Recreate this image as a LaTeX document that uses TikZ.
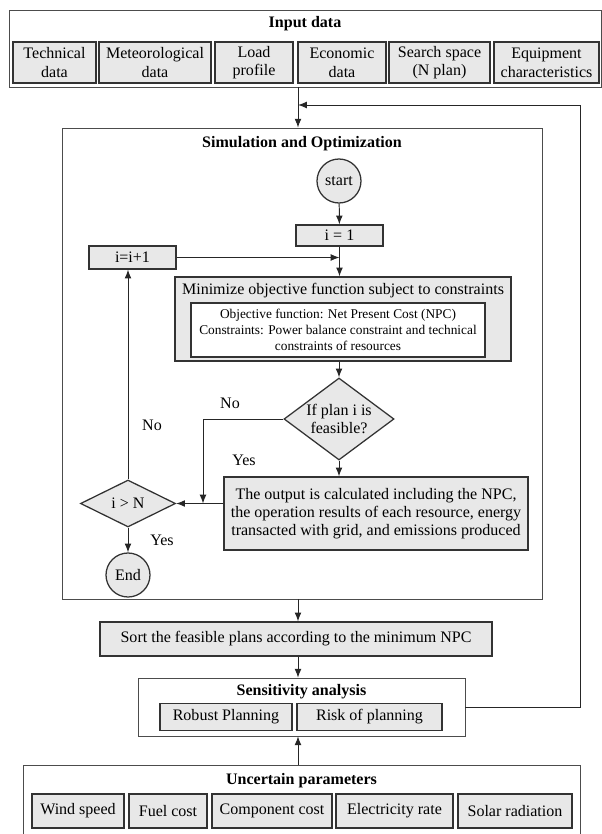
\documentclass[tikz,border=0pt]{standalone}
\usepackage{fontspec}
\setmainfont{Liberation Serif}
\usepackage{tikz}
\usetikzlibrary{shapes.geometric, arrows.meta, positioning, calc}

\begin{document}
\begin{tikzpicture}[
        x=0.025cm, y=-0.025cm,
        font=\fontsize{11.4}{13.2}\selectfont,
        group/.style={rectangle, draw=black!70, fill=white, inner sep=0pt},
        item/.style={rectangle, draw=black!80, line width=0.9pt, fill=gray!18, align=center, inner sep=1pt},
        proc/.style={rectangle, draw=black!80, line width=0.9pt, fill=gray!18, align=center, inner sep=1pt},
        term/.style={circle, draw=black!80, line width=0.9pt, fill=gray!18, minimum size=1.1cm, inner sep=0pt},
        decide/.style={diamond, draw=black!80, line width=0.9pt, fill=gray!18, align=center, inner sep=0pt, aspect=2},
        title/.style={font=\fontsize{11.4}{13.2}\selectfont\bfseries},
        arrowline/.style={-{Latex[length=2.2mm, width=1.7mm]}, line width=0.7pt, draw=black!85},
        line/.style={line width=0.7pt, draw=black!85}
    ]
        \useasboundingbox (0,0) rectangle (602,834);

        % input data
        \node[group, minimum width=14.8cm, minimum height=1.925cm] (inp) at (305,48.5) {};
        \node[title] (inptitle) at (305,24) {Input data};
        \node[item, minimum width=2.075cm, minimum height=1.025cm] (tech) at (54.5,62.5) {Technical\\data};
        \node[item, minimum width=2.8cm, minimum height=1.025cm] (met) at (155,62.5) {Meteorological\\data};
        \node[item, minimum width=1.95cm, minimum height=1.025cm] (load) at (254,62.5) {Load\\profile};
        \node[item, minimum width=2.2cm, minimum height=1.025cm] (econ) at (342,62.5) {Economic\\data};
        \node[item, minimum width=2.525cm, minimum height=1.025cm] (search) at (439.5,62.5) {Search space\\(N plan)};
        \node[item, minimum width=2.625cm, minimum height=1.025cm] (equip) at (546.5,62.5) {Equipment\\characteristics};

        % simulation and optimization
        \node[group, minimum width=12cm, minimum height=11.775cm] (sim) at (302,363.5) {};
        \node[title] (simtitle) at (302,144) {Simulation and Optimization};
        \node[term] (start) at (339,181) {start};
        \node[proc, minimum width=2.175cm, minimum height=0.525cm] (i1) at (339.5,235.5) {i = 1};
        \node[proc, minimum width=2.175cm, minimum height=0.575cm] (inc) at (132.5,257.5) {i=i+1};
        \node[proc, minimum width=8.4cm, minimum height=2.1cm] (mini) at (343,319) {};
        \node (minititle) at (343,291) {Minimize objective function subject to constraints};
        \node[rectangle, draw=black!80, line width=0.9pt, fill=white, align=center, inner sep=1pt,
              minimum width=7.35cm, minimum height=1.35cm, font=\fontsize{9.5}{11.4}\selectfont] (obj) at (338,330)
              {Objective function: Net Present Cost (NPC)\\Constraints: Power balance constraint and technical\\constraints of resources};
        \node[decide, minimum width=2.75cm, minimum height=2.05cm, aspect=1.34] (feas) at (339,419) {If plan i is\\feasible?};
        \node[proc, minimum width=7.6cm, minimum height=1.825cm, font=\fontsize{11.4}{12.6}\selectfont] (out) at (376,513.5)
              {The output is calculated including the NPC,\\the operation results of each resource, energy\\transacted with grid, and emissions produced};
        \node[decide, minimum width=2.375cm, minimum height=1.175cm] (chk) at (128,503.5) {i > N};
        \node[term] (end) at (128,575) {End};
        \node (no1) at (230,403) {No};
        \node (yes1) at (244,460) {Yes};
        \node (no2) at (152,425) {No};
        \node (yes2) at (162,540) {Yes};

        % sorting and sensitivity
        \node[proc, minimum width=9.8cm, minimum height=0.85cm] (sort) at (296,639) {Sort the feasible plans according to the minimum NPC};
        \node[group, minimum width=8.175cm, minimum height=1.45cm] (sens) at (301.5,707) {};
        \node[title] (senstitle) at (301.5,692) {Sensitivity analysis};
        \node[item, minimum width=3.3cm, minimum height=0.675cm] (robust) at (226,717) {Robust Planning};
        \node[item, minimum width=3.625cm, minimum height=0.675cm] (risk) at (369.5,717) {Risk of planning};

        % uncertain parameters
        \node[group, minimum width=13.925cm, minimum height=1.775cm] (unc) at (301.5,800.5) {};
        \node[title] (unctitle) at (301.5,781) {Uncertain parameters};
        \node[item, minimum width=2.3cm, minimum height=0.85cm] (wind) at (78,811) {Wind speed};
        \node[item, minimum width=1.95cm, minimum height=0.85cm] (fuel) at (168,811) {Fuel cost};
        \node[item, minimum width=3cm, minimum height=0.85cm] (comp) at (272,811) {Component cost};
        \node[item, minimum width=2.925cm, minimum height=0.85cm] (elec) at (394.5,811) {Electricity rate};
        \node[item, minimum width=2.85cm, minimum height=0.85cm] (solar) at (515,811) {Solar radiation};

        \coordinate (merge) at (298,105);
        \coordinate (fbk) at (580,105);
        \coordinate (join) at (203,503.5);

        % connectors
        \draw[arrowline] (inp.south -| merge) -- (sim.north -| merge);
        \draw[arrowline] (sens.east) -| (fbk) -- (merge);
        \draw[arrowline] (start) -- (i1);
        \draw[arrowline] (i1) -- (i1.south |- mini.north);
        \draw[arrowline] (inc.east) -- (inc.east -| i1.south);
        \draw[arrowline] (mini.south -| feas.north) -- (feas.north);
        \draw[arrowline] (feas.south) -- (feas.south |- out.north);
        \draw[arrowline] (feas.west) -| (join);
        \draw[arrowline] (out.west |- chk.east) -- (chk.east);
        \draw[arrowline] (chk.north) -- (chk.north |- inc.south);
        \draw[arrowline] (chk.south) -- (end.north);
        \draw[arrowline] (sim.south -| merge) -- (sort.north -| merge);
        \draw[arrowline] (sort.south -| merge) -- (sens.north -| merge);
        \draw[arrowline] (unc.north -| merge) -- (sens.south -| merge);
    \end{tikzpicture}
\end{document}
